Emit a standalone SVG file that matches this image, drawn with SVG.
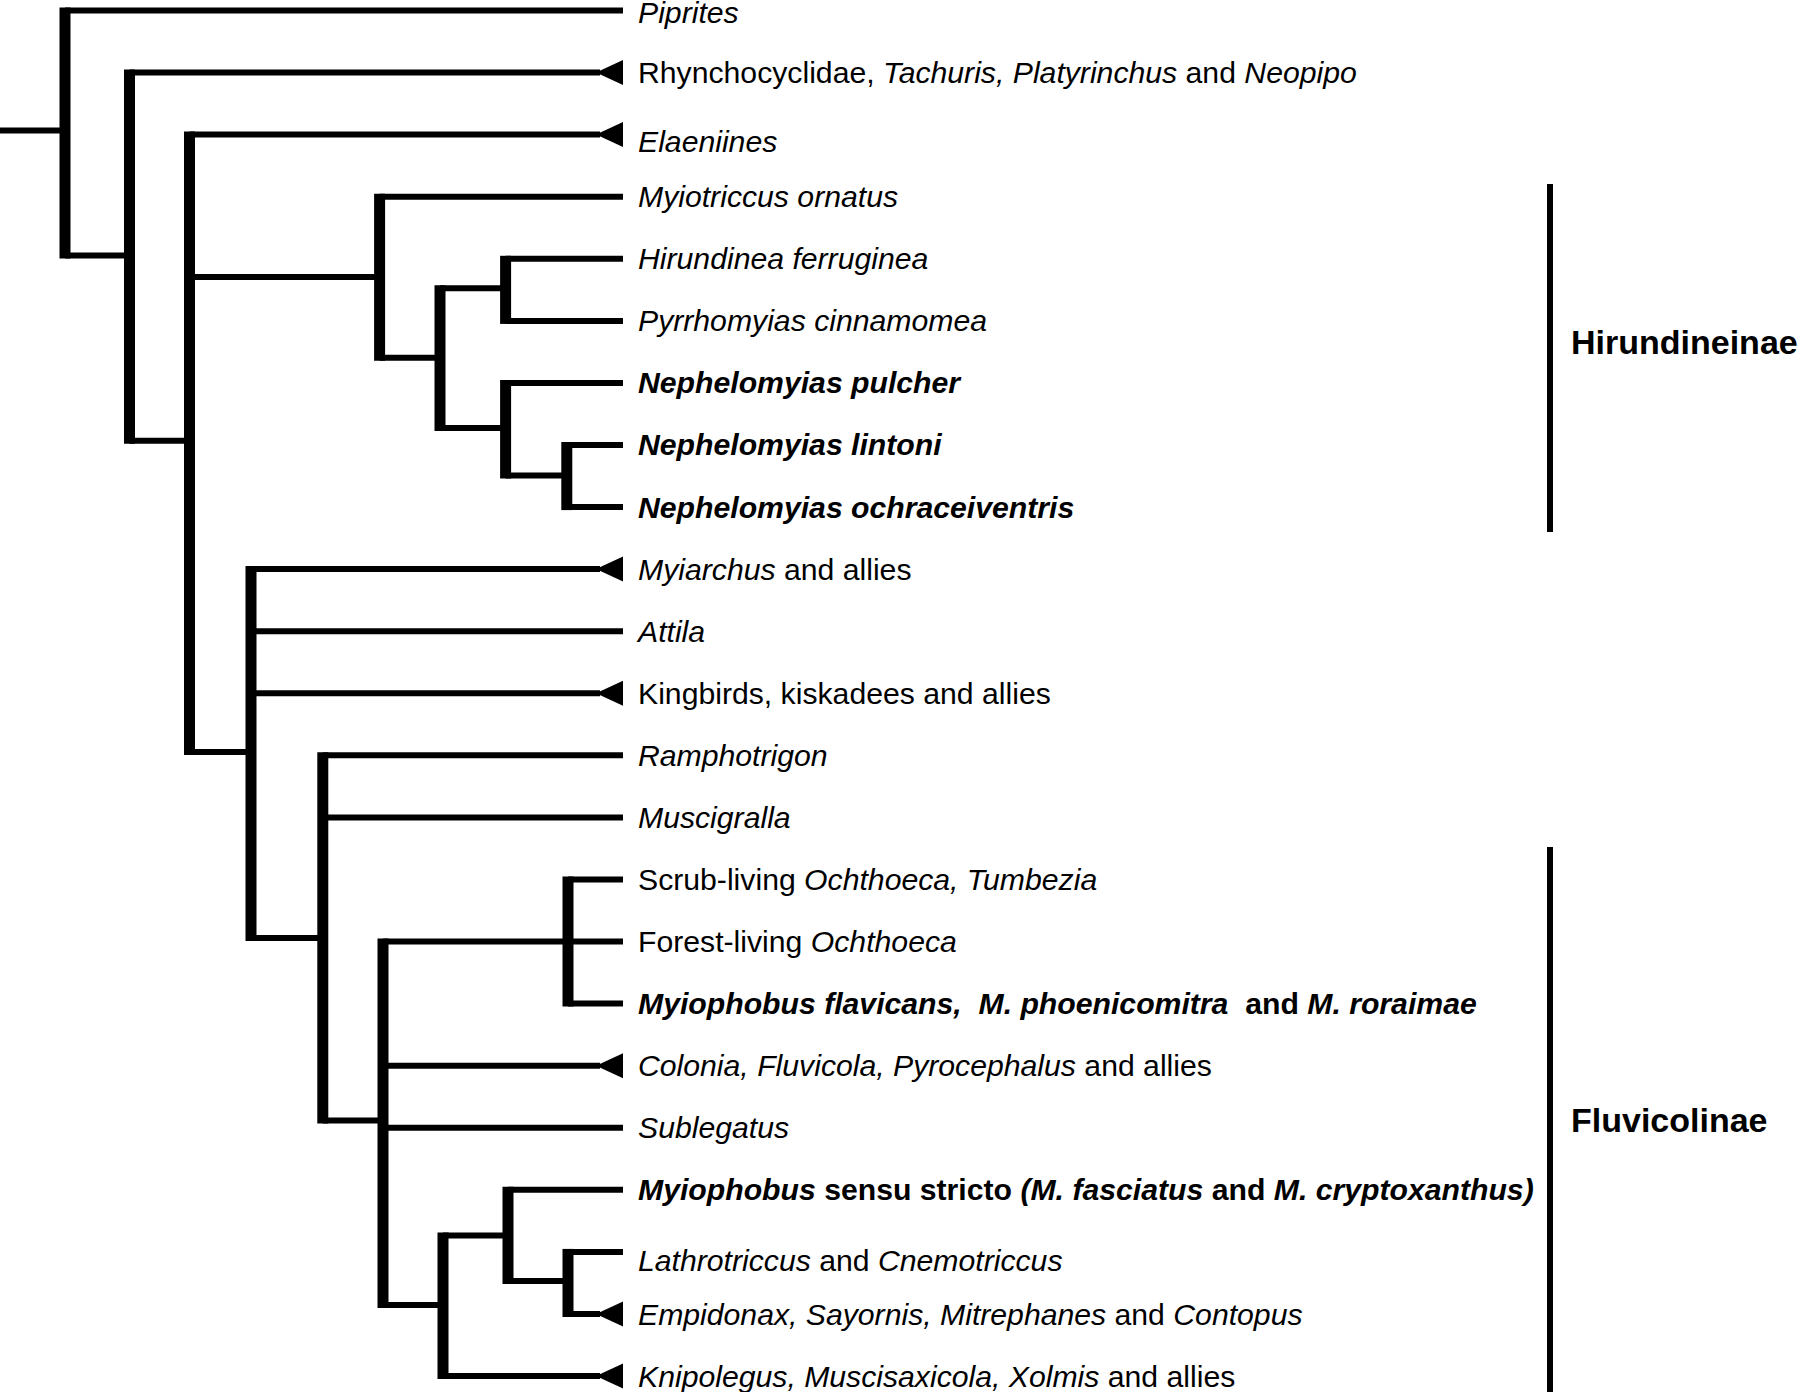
<svg xmlns="http://www.w3.org/2000/svg" width="1800" height="1392" viewBox="0 0 1800 1392">
<style>
  .h { stroke: #000; stroke-width: 6; fill: none; stroke-linecap: butt; }
  .v { stroke: #000; stroke-width: 11; fill: none; stroke-linecap: butt; }
  .bar { stroke: #000; stroke-width: 6; fill: none; }
  .tri { fill: #000; }
  text { font-family: "Liberation Sans", Arial, Helvetica, sans-serif; font-size: 30.2px; fill: #000; }
  .i { font-style: italic; }
  .b { font-weight: bold; }
  .bi { font-weight: bold; font-style: italic; }
  .grp { font-size: 34px; font-weight: bold; }
</style>
<defs>
  <polygon id="tri" class="tri" points="-27,0 0,-12.5 0,12.5"/>
</defs>
<rect x="0" y="0" width="1800" height="1392" fill="#fff"/>

<g id="connectors">
  <line class="h" x1="0" y1="130.5" x2="65" y2="130.5"/>
  <line class="v" x1="65" y1="7.5" x2="65" y2="258.5"/>
  <line class="h" x1="65" y1="10.5" x2="623" y2="10.5"/>
  <line class="h" x1="65" y1="255.5" x2="129.5" y2="255.5"/>
  <line class="v" x1="129.5" y1="69.6" x2="129.5" y2="443.7"/>
  <line class="h" x1="129.5" y1="72.6" x2="600" y2="72.6"/>
  <line class="h" x1="129.5" y1="440.7" x2="189.5" y2="440.7"/>
  <line class="v" x1="189.5" y1="131.6" x2="189.5" y2="755"/>
  <line class="h" x1="189.5" y1="134.6" x2="600" y2="134.6"/>
  <line class="h" x1="189.5" y1="277" x2="379.6" y2="277"/>
  <line class="h" x1="189.5" y1="752" x2="251" y2="752"/>
  <line class="v" x1="379.6" y1="193.7" x2="379.6" y2="360.8"/>
  <line class="h" x1="379.6" y1="196.7" x2="623" y2="196.7"/>
  <line class="h" x1="379.6" y1="357.8" x2="440" y2="357.8"/>
  <line class="v" x1="440" y1="285.3" x2="440" y2="431"/>
  <line class="h" x1="440" y1="288.3" x2="505.6" y2="288.3"/>
  <line class="h" x1="440" y1="428" x2="505.6" y2="428"/>
  <line class="v" x1="505.6" y1="255.8" x2="505.6" y2="323.9"/>
  <line class="h" x1="505.6" y1="258.8" x2="623" y2="258.8"/>
  <line class="h" x1="505.6" y1="320.9" x2="623" y2="320.9"/>
  <line class="v" x1="505.6" y1="379.9" x2="505.6" y2="478.6"/>
  <line class="h" x1="505.6" y1="382.9" x2="623" y2="382.9"/>
  <line class="h" x1="505.6" y1="475.6" x2="566.8" y2="475.6"/>
  <line class="v" x1="566.8" y1="442" x2="566.8" y2="510.1"/>
  <line class="h" x1="566.8" y1="445" x2="623" y2="445"/>
  <line class="h" x1="566.8" y1="507.1" x2="623" y2="507.1"/>
  <line class="v" x1="251" y1="566.1" x2="251" y2="941"/>
  <line class="h" x1="251" y1="569.1" x2="600" y2="569.1"/>
  <line class="h" x1="251" y1="631.2" x2="623" y2="631.2"/>
  <line class="h" x1="251" y1="693.3" x2="600" y2="693.3"/>
  <line class="h" x1="251" y1="938" x2="322.8" y2="938"/>
  <line class="v" x1="322.8" y1="752.3" x2="322.8" y2="1123.5"/>
  <line class="h" x1="322.8" y1="755.3" x2="623" y2="755.3"/>
  <line class="h" x1="322.8" y1="817.4" x2="623" y2="817.4"/>
  <line class="h" x1="322.8" y1="1120.5" x2="383" y2="1120.5"/>
  <line class="v" x1="383" y1="938.6" x2="383" y2="1308"/>
  <line class="h" x1="383" y1="941.6" x2="623" y2="941.6"/>
  <line class="h" x1="383" y1="1065.7" x2="600" y2="1065.7"/>
  <line class="h" x1="383" y1="1127.8" x2="623" y2="1127.8"/>
  <line class="h" x1="383" y1="1305" x2="443" y2="1305"/>
  <line class="v" x1="568" y1="876.5" x2="568" y2="1006.6"/>
  <line class="h" x1="568" y1="879.5" x2="623" y2="879.5"/>
  <line class="h" x1="568" y1="1003.6" x2="623" y2="1003.6"/>
  <line class="v" x1="443" y1="1232.4" x2="443" y2="1379"/>
  <line class="h" x1="443" y1="1235.4" x2="508" y2="1235.4"/>
  <line class="h" x1="443" y1="1376" x2="600" y2="1376"/>
  <line class="v" x1="508" y1="1186.8" x2="508" y2="1284"/>
  <line class="h" x1="508" y1="1189.8" x2="623" y2="1189.8"/>
  <line class="h" x1="508" y1="1281" x2="568" y2="1281"/>
  <line class="v" x1="568" y1="1248.9" x2="568" y2="1317"/>
  <line class="h" x1="568" y1="1251.9" x2="623" y2="1251.9"/>
  <line class="h" x1="568" y1="1314" x2="600" y2="1314"/>
</g>

<g id="tip-piprites"><text x="638" y="23" class="i">Piprites</text></g>
<g id="tip-rhynchocyclidae"><use href="#tri" x="623" y="72.6"/><text x="638" y="83">Rhynchocyclidae, <tspan class="i">Tachuris,</tspan> <tspan class="i">Platyrinchus</tspan> and <tspan class="i">Neopipo</tspan></text></g>
<g id="tip-elaeniines"><use href="#tri" x="623" y="134.6"/><text x="638" y="151.5" class="i">Elaeniines</text></g>
<g id="tip-myiotriccus"><text x="638" y="207" class="i">Myiotriccus ornatus</text></g>
<g id="tip-hirundinea"><text x="638" y="269" class="i">Hirundinea ferruginea</text></g>
<g id="tip-pyrrhomyias"><text x="638" y="331" class="i">Pyrrhomyias cinnamomea</text></g>
<g id="tip-n-pulcher"><text x="638" y="393" class="bi">Nephelomyias pulcher</text></g>
<g id="tip-n-lintoni"><text x="638" y="455" class="bi">Nephelomyias lintoni</text></g>
<g id="tip-n-ochraceiventris"><text x="638" y="517.5" class="bi">Nephelomyias ochraceiventris</text></g>
<g id="tip-myiarchus"><use href="#tri" x="623" y="569.1"/><text x="638" y="579.5"><tspan class="i">Myiarchus</tspan> and allies</text></g>
<g id="tip-attila"><text x="638" y="641.5" class="i">Attila</text></g>
<g id="tip-kingbirds"><use href="#tri" x="623" y="693.3"/><text x="638" y="703.5">Kingbirds, kiskadees and allies</text></g>
<g id="tip-ramphotrigon"><text x="638" y="765.5" class="i">Ramphotrigon</text></g>
<g id="tip-muscigralla"><text x="638" y="828" class="i">Muscigralla</text></g>
<g id="tip-scrub"><text x="638" y="890">Scrub-living <tspan class="i">Ochthoeca, Tumbezia</tspan></text></g>
<g id="tip-forest"><text x="638" y="952">Forest-living <tspan class="i">Ochthoeca</tspan></text></g>
<g id="tip-myiophobus-flavicans"><text x="638" y="1014" class="b" xml:space="preserve"><tspan class="bi">Myiophobus flavicans,  M. phoenicomitra</tspan>  and <tspan class="bi">M. roraimae</tspan></text></g>
<g id="tip-colonia"><use href="#tri" x="623" y="1065.7"/><text x="638" y="1076"><tspan class="i">Colonia, Fluvicola, Pyrocephalus</tspan> and allies</text></g>
<g id="tip-sublegatus"><text x="638" y="1138" class="i">Sublegatus</text></g>
<g id="tip-myiophobus-ss"><text x="638" y="1200" class="b"><tspan class="bi">Myiophobus</tspan> sensu stricto <tspan class="bi">(M. fasciatus</tspan> and <tspan class="bi">M. cryptoxanthus)</tspan></text></g>
<g id="tip-lathrotriccus"><text x="638" y="1270.5"><tspan class="i">Lathrotriccus</tspan> and <tspan class="i">Cnemotriccus</tspan></text></g>
<g id="tip-empidonax"><use href="#tri" x="623" y="1314"/><text x="638" y="1324.5"><tspan class="i">Empidonax, Sayornis, Mitrephanes</tspan> and <tspan class="i">Contopus</tspan></text></g>
<g id="tip-knipolegus"><use href="#tri" x="623" y="1376"/><text x="638" y="1386.5"><tspan class="i">Knipolegus, Muscisaxicola, Xolmis</tspan> and allies</text></g>

<g id="group-hirundineinae">
  <line class="bar" x1="1550" y1="184" x2="1550" y2="532"/>
  <text x="1571" y="354" class="grp">Hirundineinae</text>
</g>
<g id="group-fluvicolinae">
  <line class="bar" x1="1550" y1="847" x2="1550" y2="1392"/>
  <text x="1571" y="1132" class="grp">Fluvicolinae</text>
</g>
</svg>
